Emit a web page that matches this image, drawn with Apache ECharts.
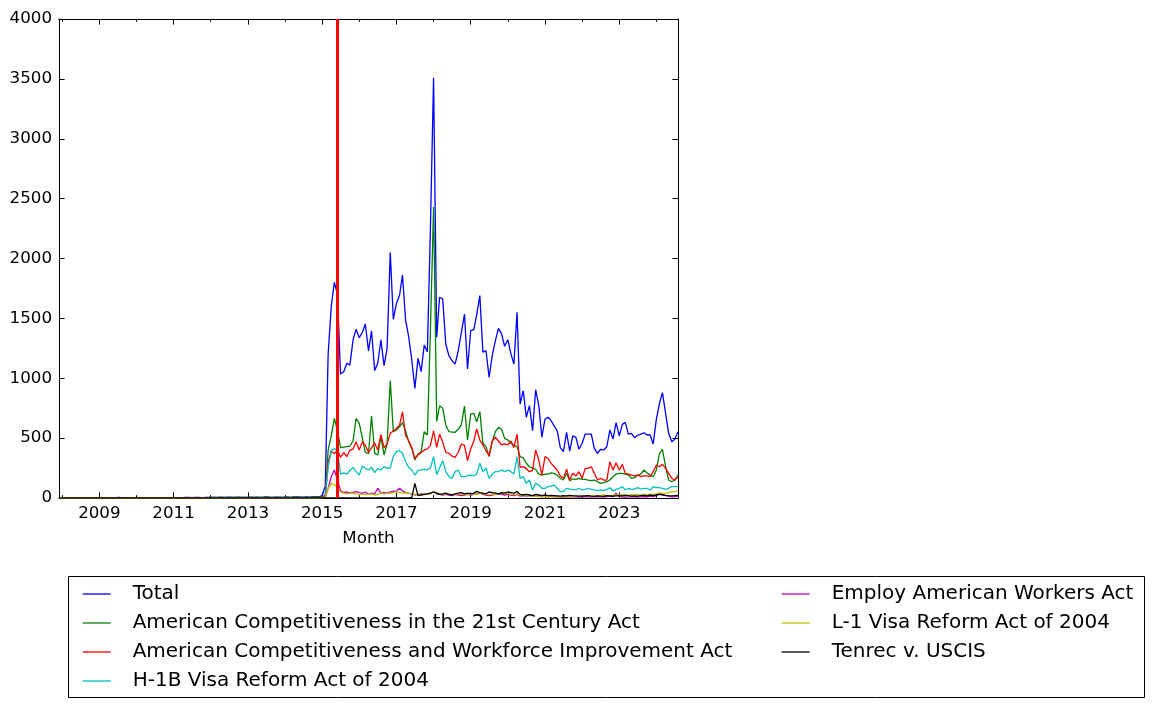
<!DOCTYPE html>
<html>
<head>
<meta charset="utf-8">
<script src="https://cdn.jsdelivr.net/npm/echarts@6/dist/echarts.min.js"></script>
<style>
html,body{margin:0;padding:0;background:#fff;}
#chart{width:1155px;height:708px;}
</style>
</head>
<body>
<div id="chart"></div>
<script>
// ---- data (monthly, Dec 2007 .. Aug 2024) ----
const START_YEAR = 2007, START_MONTH = 11; // December 2007 (0-based month)
const seriesNames = [
  'Total',
  'American Competitiveness in the 21st Century Act',
  'American Competitiveness and Workforce Improvement Act',
  'H-1B Visa Reform Act of 2004',
  'Employ American Workers Act',
  'L-1 Visa Reform Act of 2004',
  'Tenrec v. USCIS'
];
const majorTickYears = [2009, 2011, 2013, 2015, 2017, 2019, 2021, 2023];
const minorTickYears = [2008, 2010, 2012, 2014, 2016, 2018, 2020, 2022, 2024];
const markerDate = [2015, 4, 28]; // red vertical line

const total = [0,
 0,0,0,0,0,0,0,0,0,0,0,0,
 0,0,0,0,0,0,4,2,0,0,0,0,
 0,0,0,0,0,0,0,0,0,0,0,0,
 2,3,2,3,5,4,3,5,4,3,4,5,
 5,6,4,7,5,6,8,6,5,7,6,5,
 6,7,5,8,6,7,9,7,6,8,7,6,
 7,8,6,9,10,8,7,9,8,10,12,10,
 20,100,1200,1600,1800,1700,1035,1055,1125,1110,1320,1409,
 1339,1384,1453,1228,1395,1064,1125,1320,1105,1250,2049,1492,
 1626,1695,1862,1486,1347,1150,916,1166,1055,1278,1222,2250,
 3510,1342,1676,1662,1286,1188,1147,1119,1230,1380,1536,1077,
 1397,1406,1530,1690,1217,1230,1008,1188,1314,1417,1370,1267,
 1322,1203,1119,1551,785,896,674,771,562,904,771,507,
 660,674,646,603,560,420,387,548,392,518,507,407,
 457,534,534,534,415,373,407,401,428,568,493,629,
 518,615,632,534,540,504,524,534,545,526,526,451,
 657,791,880,707,540,470,490,554];

const ac21 = [0,
 0,0,0,0,0,0,0,0,0,0,0,0,
 0,0,0,0,0,0,0,0,0,0,0,0,
 0,0,0,0,0,0,0,0,0,0,0,0,
 0,0,2,2,3,2,3,3,2,3,2,3,
 4,5,4,6,5,5,6,5,4,6,5,4,
 5,6,4,6,5,6,7,6,5,6,5,5,
 6,7,5,7,8,6,6,7,6,8,9,8,
 8,20,400,520,665,560,420,425,429,434,476,665,
 624,499,380,370,685,373,359,512,359,457,980,554,
 568,596,630,560,470,414,317,367,387,554,526,1400,
 2430,640,770,750,610,554,550,549,574,610,768,484,
 701,707,637,721,457,429,345,470,554,590,574,498,
 484,457,440,430,345,336,290,261,250,240,200,192,
 200,200,210,206,190,164,150,206,145,159,155,164,
 155,155,150,145,150,136,122,128,136,150,178,200,
 206,206,200,192,164,170,192,200,234,210,192,178,
 234,373,407,261,150,136,150,192];

const acwia = [0,
 0,0,0,0,0,0,0,0,0,0,0,0,
 0,0,0,0,0,0,0,0,0,0,0,0,
 0,0,0,0,0,0,0,0,0,0,0,0,
 0,0,0,0,0,2,0,0,0,0,0,0,
 0,0,0,0,0,0,0,0,0,0,0,0,
 0,0,0,0,0,0,0,0,0,0,0,0,
 0,0,0,0,0,0,0,0,0,0,0,0,
 5,20,300,390,370,400,340,380,345,400,410,470,
 400,470,440,380,420,460,400,530,420,450,540,560,
 580,610,720,520,480,420,330,360,380,400,410,440,
 560,423,534,465,382,373,350,340,382,451,440,312,
 409,476,576,484,443,395,354,476,507,476,443,451,
 443,476,420,534,256,262,245,220,230,401,317,192,
 345,330,290,261,234,184,164,240,150,206,184,220,
 164,248,248,261,206,150,164,150,150,303,234,295,
 234,281,206,200,192,184,192,178,184,184,178,220,
 276,261,281,248,206,164,150,178];

const h1b = [0,
 0,0,0,0,0,0,0,0,0,0,0,0,
 0,0,0,0,0,0,0,0,0,0,0,0,
 0,0,0,0,0,0,0,0,0,0,0,0,
 0,0,0,0,0,0,0,0,0,0,0,0,
 0,0,0,0,0,0,0,0,0,0,0,0,
 0,0,0,0,0,0,0,0,0,0,0,0,
 0,0,0,0,0,0,0,0,0,0,0,0,
 2,10,250,400,410,400,200,210,200,230,256,220,
 192,267,248,234,256,211,248,234,262,250,250,350,
 387,395,373,303,256,234,192,230,234,240,234,250,
 345,195,250,312,220,178,164,220,234,178,178,186,
 190,186,200,290,220,248,164,200,220,220,234,220,
 234,220,200,345,164,178,122,150,67,122,110,81,
 81,95,100,109,81,53,53,81,75,70,67,81,
 67,72,81,72,67,62,67,62,72,86,60,72,
 81,95,67,81,72,75,86,75,81,81,67,95,
 86,86,81,72,81,95,95,95];

const eawa = [0,
 0,0,0,0,0,0,0,0,0,0,0,0,
 0,0,0,0,0,0,4,2,0,0,0,0,
 0,0,0,0,0,0,0,0,0,0,0,0,
 0,0,0,0,0,0,0,0,0,0,0,0,
 0,0,0,0,0,0,0,0,0,0,0,0,
 0,0,0,0,0,0,0,0,0,0,0,0,
 0,0,0,0,0,0,0,0,0,0,0,0,
 0,5,80,180,234,150,60,45,50,40,45,55,
 45,40,50,30,40,35,81,40,45,40,50,55,
 60,81,60,45,40,35,25,30,35,30,35,40,
 50,35,30,25,30,25,20,30,25,20,25,30,
 25,30,35,40,30,25,20,25,30,35,30,25,
 30,25,20,30,15,20,15,20,15,20,15,10,
 15,10,15,10,12,10,8,12,10,12,10,8,
 10,12,10,8,10,12,10,8,12,15,10,40,
 12,10,8,10,12,10,8,10,12,10,15,12,
 20,40,25,20,15,10,12,15];

const l1 = [0,
 0,0,0,0,0,0,0,0,0,0,0,0,
 0,0,0,0,0,0,0,0,0,0,0,0,
 0,0,0,0,0,0,0,0,0,0,0,0,
 0,0,0,0,0,0,0,0,0,0,0,0,
 0,0,0,0,0,0,0,0,0,0,0,0,
 0,0,0,0,0,0,0,0,0,0,0,0,
 0,0,0,0,0,0,0,0,0,0,0,0,
 0,5,80,122,110,90,50,40,35,40,38,35,
 30,32,28,30,35,25,30,40,35,38,40,45,
 50,45,40,42,38,35,30,35,30,28,30,35,
 55,40,35,30,35,30,32,30,35,30,28,32,
 30,35,28,40,35,30,28,32,30,35,40,35,
 38,30,28,35,25,20,22,18,15,18,15,12,
 15,12,10,12,14,12,10,15,12,14,16,15,
 18,20,22,20,18,20,22,25,22,20,24,26,
 25,28,26,24,28,30,28,26,30,28,32,30,
 35,42,40,38,45,50,55,60];

const tenrec = [0,
 0,0,0,0,0,0,0,0,0,0,0,0,
 0,0,0,0,0,0,0,0,0,0,0,0,
 0,0,0,0,0,0,0,0,0,0,0,0,
 0,0,0,0,0,0,0,0,0,0,0,0,
 0,0,0,0,0,0,0,0,0,0,0,0,
 0,0,0,0,0,0,0,0,0,0,0,0,
 0,0,0,0,0,0,0,0,0,0,0,0,
 0,0,0,0,0,0,0,0,0,0,0,0,
 0,0,0,0,0,0,0,0,0,0,0,0,
 0,0,0,0,0,5,122,20,25,30,35,40,
 50,40,30,35,40,30,25,35,40,45,35,40,
 35,40,55,45,40,35,50,45,40,35,45,40,
 50,45,40,55,30,25,30,25,20,30,25,20,
 25,20,22,20,18,15,20,18,22,20,18,15,
 15,18,20,16,14,18,16,14,20,18,15,18,
 20,18,22,20,16,18,15,20,22,18,25,20,
 25,30,28,22,20,18,20,22];

// ---- build ----
const allValues = [total, ac21, acwia, h1b, eawa, l1, tenrec];
const colors = ['#0000ff', '#008000', '#ff0000', '#00bfbf', '#bf00bf', '#bfbf00', '#000000'];
const months = total.map((_, i) => Date.UTC(START_YEAR, START_MONTH + i, 1));
const xMin = months[0], xMax = months[months.length - 1];
const yearTs = y => Date.UTC(y, 0, 1);
const FONT = 'DejaVu Sans';
const TICK_FS = 16.7;
const LW = 1.3;

function xAxisDef(position, years, len, withLabels) {
  return {
    type: 'value', position: position, min: xMin, max: xMax, scale: true,
    axisLine: { show: true, onZero: false, lineStyle: { color: '#000', width: 1 } },
    axisTick: { show: true, inside: true, length: len, customValues: years.map(yearTs), lineStyle: { color: '#000', width: 1 } },
    axisLabel: withLabels ? {
      show: true, customValues: years.map(yearTs), margin: 7,
      formatter: v => String(new Date(v).getUTCFullYear()),
      fontFamily: FONT, fontSize: TICK_FS, color: '#000'
    } : { show: false },
    splitLine: { show: false }, minorTick: { show: false }
  };
}
function yAxisDef(position, withLabels) {
  return {
    type: 'value', position: position, min: 0, max: 4000, interval: 500,
    axisLine: { show: true, onZero: false, lineStyle: { color: '#000', width: 1 } },
    axisTick: { show: true, inside: true, length: 5.6, lineStyle: { color: '#000', width: 1 } },
    axisLabel: withLabels ? { show: true, margin: 7, fontFamily: FONT, fontSize: TICK_FS, color: '#000',
      formatter: v => String(v) } : { show: false },
    splitLine: { show: false }
  };
}

const xAxes = [
  xAxisDef('bottom', majorTickYears, 5.6, true),
  xAxisDef('bottom', minorTickYears, 2.8, false),
  xAxisDef('top', majorTickYears, 5.6, false),
  xAxisDef('top', minorTickYears, 2.8, false)
];
xAxes[0].name = 'Month';
xAxes[0].nameLocation = 'middle';
xAxes[0].nameGap = 32;
xAxes[0].nameTextStyle = { fontFamily: FONT, fontSize: TICK_FS, color: '#000', verticalAlign: 'top' };

const series = allValues.map((vals, i) => ({
  name: seriesNames[i], type: 'line', xAxisIndex: 0, yAxisIndex: 0,
  data: months.map((t, j) => [t, vals[j]]),
  symbol: 'none', showSymbol: false,
  lineStyle: { color: colors[i], width: LW },
  itemStyle: { color: colors[i] },
  emphasis: { disabled: true },
  animation: false
}));
series[series.length - 1].markLine = {
  silent: true, symbol: ['none', 'none'], animation: false,
  label: { show: false },
  lineStyle: { color: '#ff0000', width: 3, type: 'solid' },
  emphasis: { disabled: true },
  data: [{ xAxis: Date.UTC(markerDate[0], markerDate[1], markerDate[2]) }]
};

const legendText = { fontFamily: FONT, fontSize: 20, color: '#000', lineHeight: 20, padding: [0, 0, 0, 17] };
const legendCommon = {
  orient: 'vertical', top: 584, padding: 0, itemWidth: 28, itemHeight: 20, itemGap: 9,
  textStyle: legendText, selectedMode: false,
  itemStyle: { opacity: 0 },
  lineStyle: { width: LW }
};
const option = {
  backgroundColor: '#ffffff',
  animation: false,
  grid: { left: 59, top: 19, width: 619, height: 479, containLabel: false },
  xAxis: xAxes,
  yAxis: [yAxisDef('left', true), yAxisDef('right', false)],
  legend: [
    Object.assign({ left: 82, data: seriesNames.slice(0, 4) }, legendCommon),
    Object.assign({ left: 781, data: seriesNames.slice(4) }, legendCommon)
  ],
  graphic: [{
    type: 'rect', silent: true,
    shape: { x: 68.5, y: 576.5, width: 1076, height: 121 },
    style: { fill: 'none', stroke: '#000', lineWidth: 1 }
  }],
  series: series
};

const chart = echarts.init(document.getElementById('chart'), null, { renderer: 'canvas' });
chart.setOption(option);
</script>
</body>
</html>
